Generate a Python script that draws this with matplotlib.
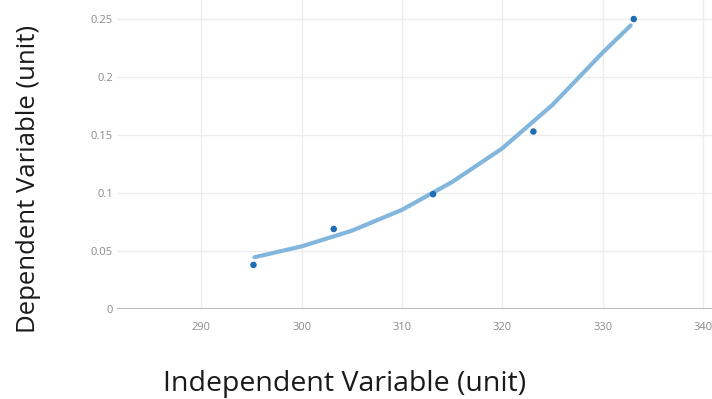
import matplotlib.pyplot as plt

# measured points
x_obs = [295.2, 303.2, 313.1, 323.1, 333.1]
y_obs = [0.038, 0.069, 0.099, 0.153, 0.250]

# fitted trend line
x_fit = [295.3, 300, 305, 310, 315, 320, 325, 330, 332.8]
y_fit = [0.0446, 0.0540, 0.0675, 0.0855, 0.1095, 0.1385, 0.1760, 0.2210, 0.2445]

x_ticks = [290, 300, 310, 320, 330, 340]
y_ticks = [0, 0.05, 0.1, 0.15, 0.2, 0.25]
y_tick_labels = ["0", "0.05", "0.1", "0.15", "0.2", "0.25"]

plt.rcParams['font.family'] = ['Open Sans', 'DejaVu Sans']

W, H = 712, 399
fig = plt.figure(figsize=(W / 100, H / 100), dpi=100)
ax = fig.add_axes([117 / W, 90 / H, (W - 117) / W, 309 / H])

ax.plot(x_fit, y_fit, color='#82b6dc', linewidth=3, solid_capstyle='round',
        solid_joinstyle='round', zorder=3)
ax.scatter(x_obs, y_obs, s=22, color='#1f6db5', edgecolors='none', zorder=4)

ax.set_xlim(281.6, 340.9)
ax.set_ylim(0, 0.2664)
ax.set_xticks(x_ticks)
ax.set_yticks(y_ticks)
ax.set_yticklabels(y_tick_labels)
ax.grid(True, color='#ededed', linewidth=1)
ax.set_axisbelow(True)
ax.axhline(0, color='#b5b5b5', linewidth=2, zorder=2)

for s in ax.spines.values():
    s.set_visible(False)
ax.tick_params(length=0, labelsize=8, labelcolor='#8a8a8a')
ax.tick_params(axis='x', pad=9)
ax.tick_params(axis='y', pad=3)

fig.text(29 / W, 1 - 179 / H, "Dependent Variable (unit)", rotation=90,
         ha='center', va='center', fontsize=18.5, color='#1a1a1a')
fig.text(345 / W, 1 - 384 / H, "Independent Variable (unit)",
         ha='center', va='center', fontsize=20.5, color='#1a1a1a')

fig.savefig("out.png", dpi=100)
